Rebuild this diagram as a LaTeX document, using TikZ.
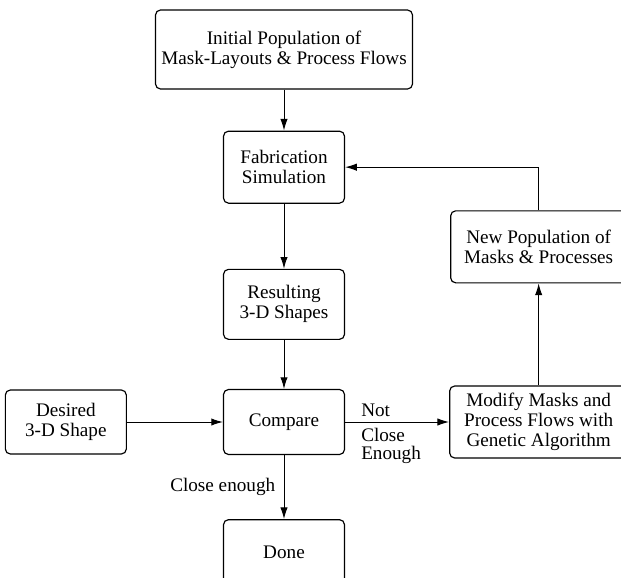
\documentclass[tikz,border=0pt]{standalone}
\usepackage{fontspec}
\setmainfont{Liberation Serif}
\usetikzlibrary{arrows.meta,positioning}
\tikzset{%
   box/.style={rectangle, rounded corners=3pt, draw=black, line width=0.7pt,
      align=center, inner sep=1pt, font=\fontsize{11.5}{12}\selectfont},
   colbox/.style={box, minimum width=72.6pt},
   flow/.style={-{Latex[length=7pt, width=4.4pt]}, line width=0.6pt},
   lbl/.style={inner sep=1pt, align=left, font=\fontsize{11.5}{10.8}\selectfont},
}

\begin{document}
\begin{tikzpicture}[x=0.6pt, y=-0.6pt]
   \useasboundingbox (0,0) rectangle (621,577);
   \clip (0,0) rectangle (621,577);
   % main column
   \node[box, minimum width=154.2pt, minimum height=47.4pt] (init) at (284,49.5)
      {Initial Population of\\Mask-Layouts \& Process Flows};
   \node[colbox, minimum height=43.2pt, below=24.6pt of init] (fab) {Fabrication\\Simulation};
   \node[colbox, minimum height=42pt, below=39pt of fab] (res) {Resulting\\3-D Shapes};
   \node[colbox, minimum height=39pt, below=29.4pt of res] (cmp) {Compare};
   \node[colbox, minimum height=39.6pt, below=38.4pt of cmp] (done) {Done};
   % side boxes
   \node[box, minimum width=72.6pt, minimum height=38.4pt, left=57.6pt of cmp] (des)
      {Desired\\3-D Shape};
   \node[box, minimum width=106.8pt, minimum height=43.2pt, right=62.4pt of cmp] (mod)
      {Modify Masks and\\Process Flows with\\Genetic Algorithm};
   \node[box, minimum width=105.6pt, minimum height=43.2pt, above=61.2pt of mod] (newp)
      {New Population of\\Masks \& Processes};
   % connectors
   \draw[flow] (init) -- (fab);
   \draw[flow] (fab) -- (res);
   \draw[flow] (res) -- (cmp);
   \draw[flow] (des) -- (cmp);
   \draw[flow] (cmp) -- node[lbl, left=4pt] (clen) {Close enough} (done);
   \draw[flow] (cmp) -- (mod);
   \node[lbl, above right=2pt and 8.5pt of cmp.east] (notlbl) {Not};
   \node[lbl, below right=2.5pt and 8.5pt of cmp.east] (cllbl) {Close\\Enough};
   \draw[flow] (mod) -- (newp);
   \draw[flow] (newp.north) |- (fab.east);
\end{tikzpicture}
\end{document}
